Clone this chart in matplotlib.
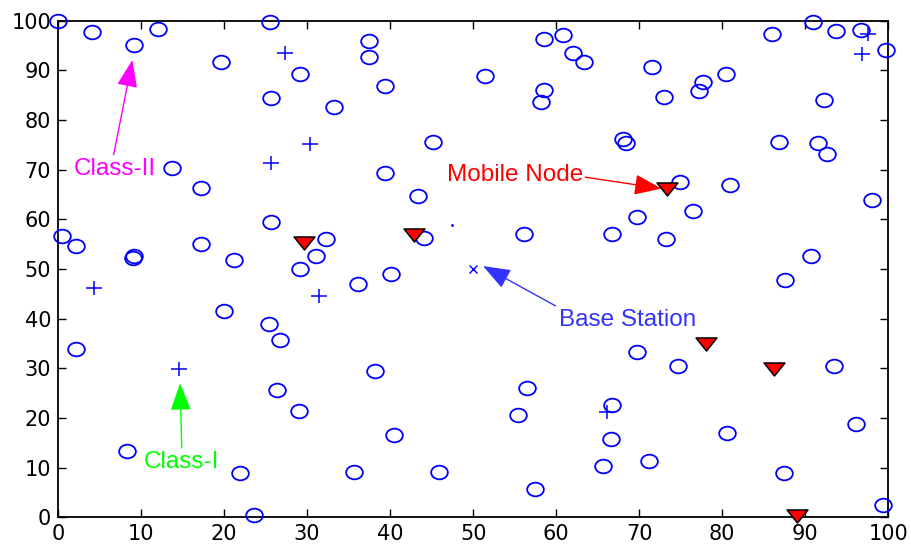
import numpy as np
import matplotlib
matplotlib.use("Agg")
import matplotlib.pyplot as plt
from matplotlib.path import Path

# sensor nodes (class II, circles)
circle_x = [0, 4.1, 9.2, 12.1, 19.6, 25.5, 29.2, 25.7, 13.7, 17.2, 25.7, 0.5, 2.2, 9.0, 9.2,
            17.2, 21.2, 29.2, 31.1, 32.3,
            37.5, 37.5, 39.4, 33.3, 51.4, 58.5, 60.8, 62.0, 63.4, 58.5, 58.2, 45.2, 39.4, 43.4,
            44.1, 56.1, 66.7, 40.1, 36.1,
            90.9, 86.0, 93.7, 96.7, 99.7, 71.6, 73.0, 77.7, 77.2, 80.4, 92.3, 68.0, 68.4, 86.9,
            91.6, 92.6, 74.9, 81.0, 76.5, 69.7, 73.2, 98.0, 90.7, 87.6,
            2.2, 8.3, 20.0, 25.4, 26.7, 26.4, 29.0, 21.9, 23.6,
            38.2, 40.5, 35.6, 45.9, 56.5, 55.4, 57.5, 66.7, 66.6, 65.7,
            69.7, 74.7, 93.5, 96.1, 80.6, 71.2, 87.4, 99.4]
circle_y = [100, 97.7, 95.2, 98.3, 91.7, 99.7, 89.3, 84.4, 70.4, 66.4, 59.5, 56.7, 54.6, 52.3, 52.6,
            55.0, 51.9, 50.1, 52.6, 56.0,
            95.9, 92.7, 86.8, 82.7, 88.9, 96.3, 97.1, 93.6, 91.7, 86.0, 83.7, 75.6, 69.4, 64.8,
            56.3, 57.0, 57.0, 49.1, 47.0,
            99.7, 97.3, 98.0, 98.1, 94.1, 90.7, 84.7, 87.7, 85.8, 89.3, 84.0, 76.1, 75.3, 75.6,
            75.3, 73.2, 67.6, 66.9, 61.7, 60.5, 56.1, 64.0, 52.6, 47.7,
            33.9, 13.3, 41.6, 38.9, 35.7, 25.6, 21.4, 8.9, 0.5,
            29.5, 16.6, 9.2, 9.2, 26.0, 20.7, 5.7, 22.6, 15.8, 10.3,
            33.3, 30.5, 30.5, 18.7, 16.9, 11.3, 8.9, 2.5]

# class I nodes (plus)
plus_x = [27.3, 30.4, 25.7, 97.6, 96.9, 4.3, 14.6, 31.4, 66.1]
plus_y = [93.5, 75.2, 71.4, 97.3, 93.4, 46.1, 29.8, 44.5, 21.3]

# mobile nodes (triangles)
mobile_x = [29.6, 42.9, 73.3, 78.0, 86.2, 89.0]
mobile_y = [55.2, 56.8, 66.2, 34.9, 29.8, 0.3]

base_x, base_y = [50], [50]
dot_x, dot_y = [47.4], [58.8]

ticks = [0, 10, 20, 30, 40, 50, 60, 70, 80, 90, 100]

# markers look a bit wider than tall in the picture
circ = Path.unit_circle()
ell_marker = Path(circ.vertices * [1.22, 1.0], circ.codes)
plus_marker = Path([(-1.2, 0), (1.2, 0), (0, -1), (0, 1)],
                   [Path.MOVETO, Path.LINETO, Path.MOVETO, Path.LINETO])
tri_marker = Path([(-0.8, 0.5), (0.8, 0.5), (0, -0.5), (-0.8, 0.5)],
                  [Path.MOVETO, Path.LINETO, Path.LINETO, Path.CLOSEPOLY])

fig = plt.figure(figsize=(9.11, 5.49), dpi=100)
ax = fig.add_axes([0.0637, 0.0577, 0.9113, 0.9045])

ax.plot(circle_x, circle_y, linestyle='none', marker=ell_marker, markersize=12,
        markerfacecolor='none', markeredgecolor='blue', markeredgewidth=1.3,
        clip_on=False, zorder=5)
ax.plot(plus_x, plus_y, linestyle='none', marker=plus_marker, markersize=12.2,
        color='blue', markeredgewidth=1.1, clip_on=False, zorder=5)
ax.plot(mobile_x, mobile_y, linestyle='none', marker=tri_marker, markersize=15,
        markerfacecolor='red', markeredgecolor='black', markeredgewidth=1.1,
        clip_on=False, zorder=6)
ax.plot(base_x, base_y, linestyle='none', marker='x', markersize=6,
        color='blue', markeredgewidth=1.0, zorder=5)
ax.plot(dot_x, dot_y, linestyle='none', marker='.', markersize=2, color='blue', zorder=5)

ax.set_xlim(0, 100)
ax.set_ylim(0, 100)
ax.set_xticks(ticks)
ax.set_yticks(ticks)
ax.tick_params(direction='in', length=5.8, width=1.0, top=True, right=True,
               labelsize=15, pad=5)
for s in ax.spines.values():
    s.set_linewidth(1.3)

arrow_kw = dict(lw=1.0, shrinkA=0, shrinkB=0, mutation_scale=20)


def note(label, color, txt_xy, tail, tip):
    ax.annotate('', xy=tip, xytext=tail,
                arrowprops=dict(arrowstyle='-|>,head_length=0.85,head_width=0.32',
                                color=color, **arrow_kw), zorder=7)
    ax.text(txt_xy[0], txt_xy[1], label, color=color, fontsize=17.5,
            family='Liberation Sans', va='center', ha='left', zorder=7)


note('Class-II', 'magenta', (1.9, 70.1), (6.7, 73.0), (8.95, 92.1))
note('Class-I', (0, 1, 0), (10.3, 11.2), (14.9, 14.0), (14.7, 27.0))
note('Mobile Node', 'red', (46.8, 68.9), (63.5, 68.5), (72.7, 66.2))
note('Base Station', (0.2, 0.2, 1), (60.3, 39.7), (59.9, 42.6), (51.2, 50.6))

fig.savefig('out.png', dpi=100)
